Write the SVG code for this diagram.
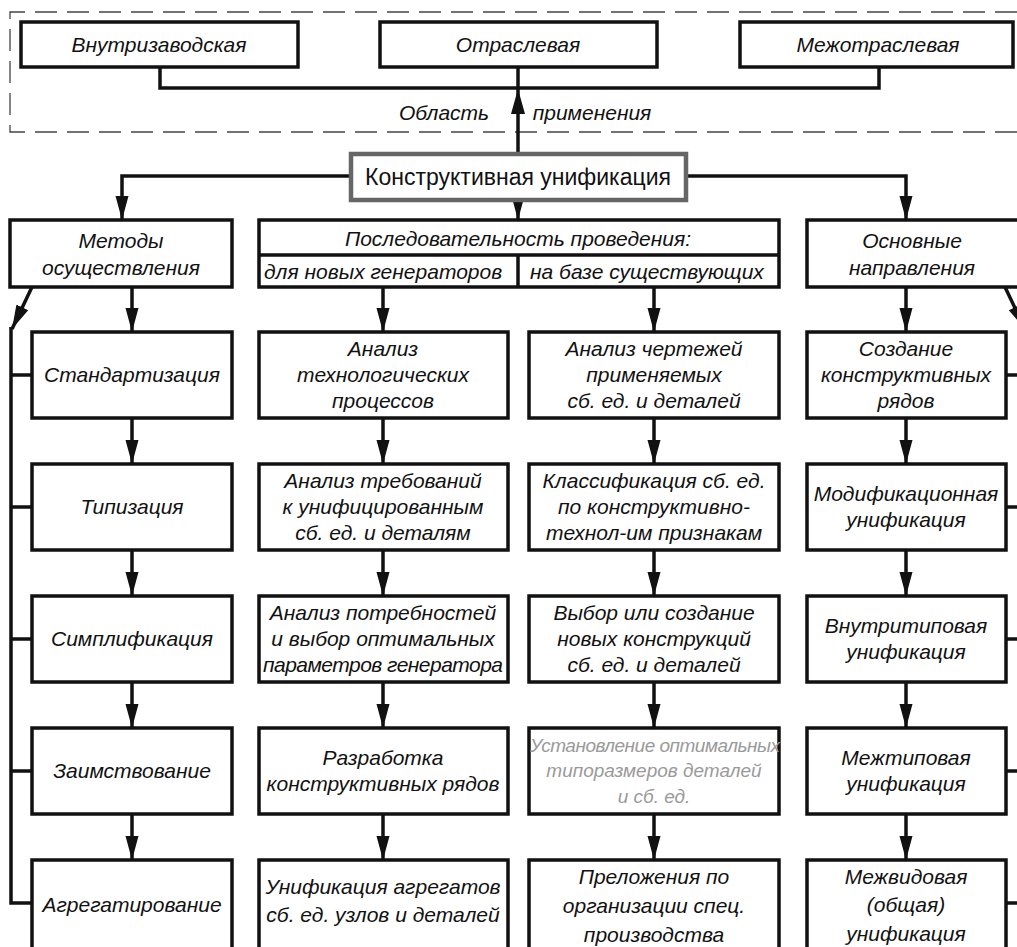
<svg xmlns="http://www.w3.org/2000/svg" width="1017" height="947" viewBox="0 0 1017 947">
<defs>
<style>
.bx{fill:#fff;stroke:#111;stroke-width:3.5}
.ln{fill:none;stroke:#111;stroke-width:3.5}
.t{font-family:"Liberation Sans","DejaVu Sans",sans-serif;font-style:italic;font-size:21px;fill:#111;text-anchor:middle}
.tl{text-anchor:start}
.g{fill:#9a9a9a;font-size:19px}
.main{font-family:"Liberation Sans","DejaVu Sans",sans-serif;font-size:23px;fill:#111;text-anchor:middle}
</style>
<marker id="ah" markerUnits="userSpaceOnUse" markerWidth="26" markerHeight="16" refX="24" refY="8" orient="auto">
<path d="M0,1.5 L24,8 L0,14.5 Z" fill="#111"/>
</marker>
</defs>
<rect width="1017" height="947" fill="#fff"/>
<path d="M1017,12 H10 V132 H1017" fill="none" stroke="#444" stroke-width="1.3" stroke-dasharray="22 10"/>

<g id="connectors">
<path class="ln" d="M160,67 V88 H879 V67"/>
<path class="ln" d="M518,153 V67"/>
<polygon points="518,89 511,114 525,114" fill="#111"/>
<path class="ln" marker-end="url(#ah)" d="M350,176 H122 V220"/>
<path class="ln" marker-end="url(#ah)" d="M686,176 H906 V220"/>
<path class="ln" marker-end="url(#ah)" d="M518,201 V220"/>
<path class="ln" marker-end="url(#ah)" d="M132,287 V332"/>
<path class="ln" marker-end="url(#ah)" d="M383,287 V332"/>
<path class="ln" marker-end="url(#ah)" d="M654,287 V332"/>
<path class="ln" marker-end="url(#ah)" d="M906,287 V332"/>
<path class="ln" marker-end="url(#ah)" d="M32,287 L12,329"/>
<path class="ln" marker-end="url(#ah)" d="M1005,287 L1025,329"/>
<path class="ln" d="M11,327 V903 H32 M11,375 H32 M11,507 H32 M11,639 H32 M11,771 H32"/>
<path class="ln" d="M1006,375 H1020 M1006,507 H1020 M1006,639 H1020 M1006,771 H1020 M1006,903 H1020"/>
<path class="ln" marker-end="url(#ah)" d="M132,418 V464"/>
<path class="ln" marker-end="url(#ah)" d="M132,550 V596"/>
<path class="ln" marker-end="url(#ah)" d="M132,682 V728"/>
<path class="ln" marker-end="url(#ah)" d="M132,814 V860"/>
<path class="ln" marker-end="url(#ah)" d="M383,418 V464"/>
<path class="ln" marker-end="url(#ah)" d="M383,550 V596"/>
<path class="ln" marker-end="url(#ah)" d="M383,682 V728"/>
<path class="ln" marker-end="url(#ah)" d="M383,814 V860"/>
<path class="ln" marker-end="url(#ah)" d="M654,418 V464"/>
<path class="ln" marker-end="url(#ah)" d="M654,550 V596"/>
<path class="ln" marker-end="url(#ah)" d="M654,682 V728"/>
<path class="ln" marker-end="url(#ah)" d="M654,814 V860"/>
<path class="ln" marker-end="url(#ah)" d="M906,418 V464"/>
<path class="ln" marker-end="url(#ah)" d="M906,550 V596"/>
<path class="ln" marker-end="url(#ah)" d="M906,682 V728"/>
<path class="ln" marker-end="url(#ah)" d="M906,814 V860"/>
</g>

<g id="lbl-area">
<text class="t" x="444" y="120">Область</text>
<text class="t" x="592" y="120">применения</text>
</g>

<g id="n-vnutri"><rect class="bx" x="21" y="22" width="277" height="45"/><text class="t" x="159" y="52">Внутризаводская</text></g>
<g id="n-otrasl"><rect class="bx" x="380" y="22" width="277" height="45"/><text class="t" x="518" y="52">Отраслевая</text></g>
<g id="n-mezhotr"><rect class="bx" x="740" y="22" width="273" height="45"/><text class="t" x="878" y="52">Межотраслевая</text></g>

<g id="n-main"><rect x="351" y="154" width="335" height="46" fill="#fff" stroke="#666" stroke-width="4.5"/><text class="main" x="518" y="185">Конструктивная унификация</text></g>

<g id="n-metody"><rect class="bx" x="10" y="220" width="222" height="67"/><text class="t" x="121" y="248">Методы</text><text class="t" x="121" y="275">осуществления</text></g>
<g id="n-posl"><rect class="bx" x="259" y="220" width="520" height="67"/><path class="ln" d="M259,255 H779 M518,255 V287"/>
<text class="t" x="518" y="246">Последовательность проведения:</text>
<text class="t tl" x="264" y="279">для новых генераторов</text>
<text class="t tl" x="530" y="279">на базе существующих</text></g>
<g id="n-osn"><rect class="bx" x="807" y="220" width="215" height="67"/><text class="t" x="912" y="248">Основные</text><text class="t" x="912" y="275">направления</text></g>

<g id="n-l1"><rect class="bx" x="32" y="332" width="200" height="86"/><text class="t" x="132" y="382">Стандартизация</text></g>
<g id="n-l2"><rect class="bx" x="32" y="464" width="200" height="86"/><text class="t" x="132" y="514">Типизация</text></g>
<g id="n-l3"><rect class="bx" x="32" y="596" width="200" height="86"/><text class="t" x="132" y="646">Симплификация</text></g>
<g id="n-l4"><rect class="bx" x="32" y="728" width="200" height="86"/><text class="t" x="132" y="778">Заимствование</text></g>
<g id="n-l5"><rect class="bx" x="32" y="860" width="200" height="100"/><text class="t" x="132" y="912">Агрегатирование</text></g>

<g id="n-m1"><rect class="bx" x="259" y="332" width="249" height="86"/><text class="t" x="383" y="356">Анализ</text><text class="t" x="383" y="382">технологических</text><text class="t" x="383" y="408">процессов</text></g>
<g id="n-m2"><rect class="bx" x="259" y="464" width="249" height="86"/><text class="t" x="383" y="488">Анализ требований</text><text class="t" x="383" y="514">к унифицированным</text><text class="t" x="383" y="540">сб. ед. и деталям</text></g>
<g id="n-m3"><rect class="bx" x="259" y="596" width="249" height="86"/><text class="t" x="383" y="620">Анализ потребностей</text><text class="t" x="383" y="646">и выбор оптимальных</text><text class="t" x="383" y="672" textLength="240">параметров генератора</text></g>
<g id="n-m4"><rect class="bx" x="259" y="728" width="249" height="86"/><text class="t" x="383" y="765">Разработка</text><text class="t" x="383" y="791">конструктивных рядов</text></g>
<g id="n-m5"><rect class="bx" x="259" y="860" width="249" height="100"/><text class="t" x="383" y="894">Унификация агрегатов</text><text class="t" x="383" y="922">сб. ед. узлов и деталей</text></g>

<g id="n-r1"><rect class="bx" x="529" y="332" width="250" height="86"/><text class="t" x="654" y="356">Анализ чертежей</text><text class="t" x="654" y="382">применяемых</text><text class="t" x="654" y="408">сб. ед. и деталей</text></g>
<g id="n-r2"><rect class="bx" x="529" y="464" width="250" height="86"/><text class="t" x="654" y="488">Классификация сб. ед.</text><text class="t" x="654" y="514">по конструктивно-</text><text class="t" x="654" y="540">технол-им признакам</text></g>
<g id="n-r3"><rect class="bx" x="529" y="596" width="250" height="86"/><text class="t" x="654" y="620">Выбор или создание</text><text class="t" x="654" y="646">новых конструкций</text><text class="t" x="654" y="672">сб. ед. и деталей</text></g>
<g id="n-r4"><rect class="bx" x="529" y="728" width="250" height="86"/><text class="t g" x="655" y="752" textLength="250">Установление оптимальных</text><text class="t g" x="654" y="777">типоразмеров деталей</text><text class="t g" x="654" y="803">и сб. ед.</text></g>
<g id="n-r5"><rect class="bx" x="529" y="860" width="250" height="100"/><text class="t" x="654" y="884">Преложения по</text><text class="t" x="654" y="913">организации спец.</text><text class="t" x="654" y="942">производства</text></g>

<g id="n-d1"><rect class="bx" x="807" y="332" width="199" height="86"/><text class="t" x="906" y="356">Создание</text><text class="t" x="906" y="382">конструктивных</text><text class="t" x="906" y="408">рядов</text></g>
<g id="n-d2"><rect class="bx" x="807" y="464" width="199" height="86"/><text class="t" x="906" y="501">Модификационная</text><text class="t" x="906" y="527">унификация</text></g>
<g id="n-d3"><rect class="bx" x="807" y="596" width="199" height="86"/><text class="t" x="906" y="633">Внутритиповая</text><text class="t" x="906" y="659">унификация</text></g>
<g id="n-d4"><rect class="bx" x="807" y="728" width="199" height="86"/><text class="t" x="906" y="765">Межтиповая</text><text class="t" x="906" y="791">унификация</text></g>
<g id="n-d5"><rect class="bx" x="807" y="860" width="199" height="100"/><text class="t" x="906" y="884">Межвидовая</text><text class="t" x="906" y="912">(общая)</text><text class="t" x="906" y="941">унификация</text></g>
</svg>
